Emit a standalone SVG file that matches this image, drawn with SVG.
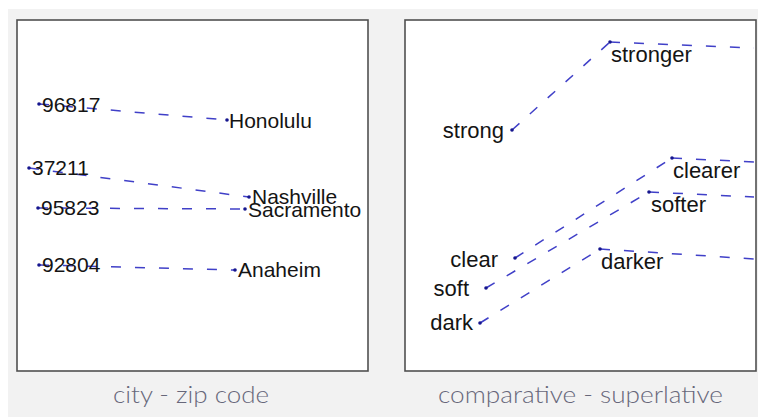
<svg xmlns="http://www.w3.org/2000/svg" width="758" height="417" viewBox="0 0 758 417">
<style>
.bg{fill:#f2f2f2}
.panel{fill:#ffffff;stroke:#505050;stroke-width:1.6}
.lbl{font-family:"Liberation Sans",Arial,sans-serif;fill:#141414}
.l{font-size:21px}
.r{font-size:22px}
.cap{font-family:Lato,"Open Sans",sans-serif;font-weight:300;font-size:23px;fill:#67677a}
.con{fill:none;stroke:#4040c8;stroke-width:1.5;stroke-dasharray:10 14}
.dot{fill:#16168e}
</style>
<rect x="0" y="0" width="758" height="417" fill="#ffffff"/>
<rect class="bg" x="8" y="9" width="750" height="408"/>
<rect class="panel" x="17" y="20" width="351" height="351"/>
<rect class="panel" x="405" y="20" width="351" height="351"/>
<text class="cap" x="113" y="403" textLength="156" lengthAdjust="spacingAndGlyphs">city - zip code</text>
<text class="cap" x="438" y="403" textLength="285" lengthAdjust="spacingAndGlyphs">comparative - superlative</text>
<g id="connectors">
<line class="con" x1="39" y1="104" x2="227" y2="120"/>
<line class="con" x1="29" y1="168" x2="249" y2="197"/>
<line class="con" x1="38" y1="208" x2="245" y2="209"/>
<line class="con" x1="39" y1="265" x2="235" y2="270"/>
<line class="con" x1="512" y1="130" x2="610" y2="42"/>
<line class="con" x1="610" y1="42" x2="754" y2="48"/>
<line class="con" x1="515" y1="258" x2="672" y2="158"/>
<line class="con" x1="672" y1="158" x2="754" y2="162"/>
<line class="con" x1="486" y1="288" x2="649" y2="192"/>
<line class="con" x1="649" y1="192" x2="754" y2="197"/>
<line class="con" x1="480" y1="323" x2="600" y2="249"/>
<line class="con" x1="600" y1="249" x2="754" y2="259"/>
</g>
<g id="n-96817"><circle class="dot" cx="39" cy="104" r="1.8"/><text class="lbl l" x="42" y="112">96817</text></g>
<g id="n-honolulu"><circle class="dot" cx="227" cy="120" r="1.8"/><text class="lbl l" x="229" y="128">Honolulu</text></g>
<g id="n-37211"><circle class="dot" cx="29" cy="168" r="1.8"/><text class="lbl l" x="32" y="175">37211</text></g>
<g id="n-nashville"><circle class="dot" cx="249" cy="197" r="1.8"/><text class="lbl l" x="252" y="204">Nashville</text></g>
<g id="n-95823"><circle class="dot" cx="38" cy="208" r="1.8"/><text class="lbl l" x="41" y="215">95823</text></g>
<g id="n-sacramento"><circle class="dot" cx="245" cy="209" r="1.8"/><text class="lbl l" x="248" y="217">Sacramento</text></g>
<g id="n-92804"><circle class="dot" cx="39" cy="265" r="1.8"/><text class="lbl l" x="42" y="272">92804</text></g>
<g id="n-anaheim"><circle class="dot" cx="235" cy="270" r="1.8"/><text class="lbl l" x="238" y="277">Anaheim</text></g>
<g id="n-strong"><circle class="dot" cx="512" cy="130" r="1.8"/><text class="lbl r" x="504" y="138" text-anchor="end">strong</text></g>
<g id="n-stronger"><circle class="dot" cx="610" cy="42" r="1.8"/><text class="lbl r" x="611" y="62">stronger</text></g>
<g id="n-clear"><circle class="dot" cx="515" cy="258" r="1.8"/><text class="lbl r" x="498" y="267" text-anchor="end">clear</text></g>
<g id="n-clearer"><circle class="dot" cx="672" cy="158" r="1.8"/><text class="lbl r" x="673" y="178">clearer</text></g>
<g id="n-soft"><circle class="dot" cx="486" cy="288" r="1.8"/><text class="lbl r" x="469" y="296" text-anchor="end">soft</text></g>
<g id="n-softer"><circle class="dot" cx="649" cy="192" r="1.8"/><text class="lbl r" x="651" y="212">softer</text></g>
<g id="n-dark"><circle class="dot" cx="480" cy="323" r="1.8"/><text class="lbl r" x="473" y="330" text-anchor="end">dark</text></g>
<g id="n-darker"><circle class="dot" cx="600" cy="249" r="1.8"/><text class="lbl r" x="601" y="269">darker</text></g>
</svg>
